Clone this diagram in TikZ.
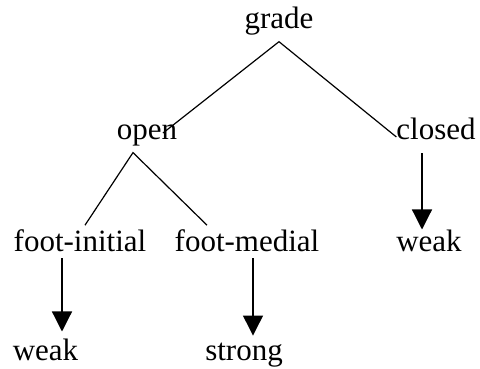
\documentclass[tikz,border=0pt]{standalone}
\usepackage{fontspec}
\setmainfont{Liberation Serif}
\usetikzlibrary{arrows.meta}
\tikzset{
	lbl/.style={inner sep=0pt, outer xsep=0pt, outer ysep=7pt, anchor=base, font=\fontsize{31}{36}\selectfont},
	branch/.style={line width=1.2pt},
	arr/.style={line width=1.2pt, -{Triangle[width=20pt,length=20pt]}}
}

\begin{document}
\begin{tikzpicture}[x=1pt,y=1pt]
			%%%%% START %%%%%
			
			\useasboundingbox (0, 0) rectangle (480, -368);
			
			\node[lbl] (grade) at (279, -28) {grade};
			\node[lbl] (open) at (147, -139) {open};
			\node[lbl] (closed) at (436, -139) {closed};
			
			\node[lbl] (footini) at (80, -251) {foot-initial};
			\node[lbl] (footmed) at (247, -251) {foot-medial};
			\node[lbl] (weakc) at (429, -251) {weak};
			
			\node[lbl] (weaki) at (45.5, -360) {weak};
			\node[lbl] (strong) at (244, -360) {strong};
			
			\draw[branch] ([xshift=16pt, yshift=6pt]open.base) -- (grade.south) -- ([yshift=2pt]closed.base west);
			\draw[branch] ([xshift=5pt, yshift=-3pt]footini.north) -- ([xshift=-14pt]open.south) -- ([xshift=-40pt, yshift=-3pt]footmed.north);
			
			\draw[arr] ([xshift=-14pt, yshift=-7pt]closed.south) -- ([xshift=-14pt, yshift=-7pt]closed.south |- weakc.north);
			\draw[arr] ([xshift=-18pt]footini.south) -- ([xshift=-18pt]footini.south |- weaki.north);
			\draw[arr] ([xshift=6pt]footmed.south) -- ([xshift=6pt]footmed.south |- strong.north);
			
			%%%%% END %%%%%
\end{tikzpicture}
\end{document}
